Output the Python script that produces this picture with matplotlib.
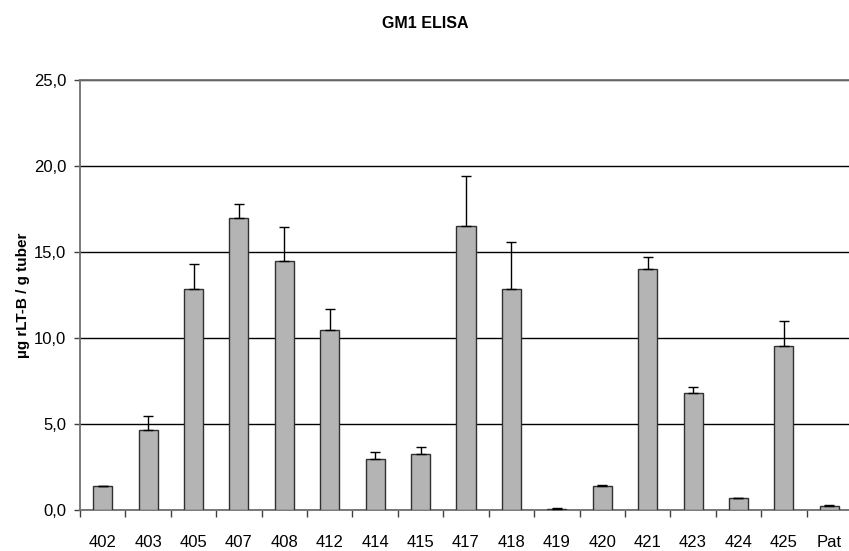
import numpy as np
import matplotlib
matplotlib.use('Agg')
import matplotlib.pyplot as plt
from matplotlib.ticker import FuncFormatter, FixedLocator

plt.rcParams['font.family'] = ['Liberation Sans', 'DejaVu Sans']

# values
lines = ['402', '403', '405', '407', '408', '412', '414', '415', '417',
         '418', '419', '420', '421', '423', '424', '425', 'Pat']
means = [1.38, 4.67, 12.83, 16.98, 14.50, 10.45, 2.99, 3.27, 16.53,
         12.83, 0.08, 1.40, 13.99, 6.80, 0.72, 9.52, 0.22]
errors = [0.03, 0.81, 1.49, 0.81, 1.95, 1.25, 0.38, 0.38, 2.87,
          2.77, 0.02, 0.03, 0.72, 0.37, 0.0, 1.47, 0.07]

fig = plt.figure(figsize=(8.49, 5.51), dpi=100)
ax = fig.add_axes([80 / 849, 1 - 510 / 551, 772 / 849, 430 / 551])

x = np.arange(len(lines))
ax.bar(x, means, width=0.42, color='#b4b4b4', edgecolor='#303030',
       linewidth=1.0, zorder=3)
ax.errorbar(x, means, yerr=[np.zeros(len(errors)), errors], fmt='none',
            ecolor='black', elinewidth=1.0, capsize=3.3, capthick=1.0,
            zorder=4)

ax.set_xlim(-0.5, len(lines) - 0.5)
ax.set_ylim(0, 25)
ax.set_yticks([0, 5, 10, 15, 20, 25])
ax.yaxis.set_major_formatter(FuncFormatter(lambda v, p: f'{v:.1f}'.replace('.', ',')))

ax.set_xticks(x)
ax.set_xticklabels(lines)
ax.xaxis.set_minor_locator(FixedLocator(np.arange(-0.5, len(lines), 1.0)))
ax.tick_params(axis='x', which='major', length=0, pad=18, labelsize=12)
ax.tick_params(axis='x', which='minor', length=5, width=1, color='#404040',
               direction='out')
ax.tick_params(axis='y', length=4.5, width=1, color='#404040', pad=5.5,
               labelsize=12)

ax.grid(axis='y', color='black', linewidth=1.0)
ax.set_axisbelow(True)

for s in ['left', 'bottom', 'top']:
    ax.spines[s].set_color('#707070')
    ax.spines[s].set_linewidth(1.3)
ax.spines['right'].set_visible(False)

ax.set_ylabel('µg rLT-B / g tuber', fontsize=11, fontweight='bold', labelpad=3)
fig.text(425 / 849, 1 - 23 / 551, 'GM1 ELISA', ha='center', va='center',
         fontsize=11.5, fontweight='bold')

fig.savefig('out.png', dpi=100)
